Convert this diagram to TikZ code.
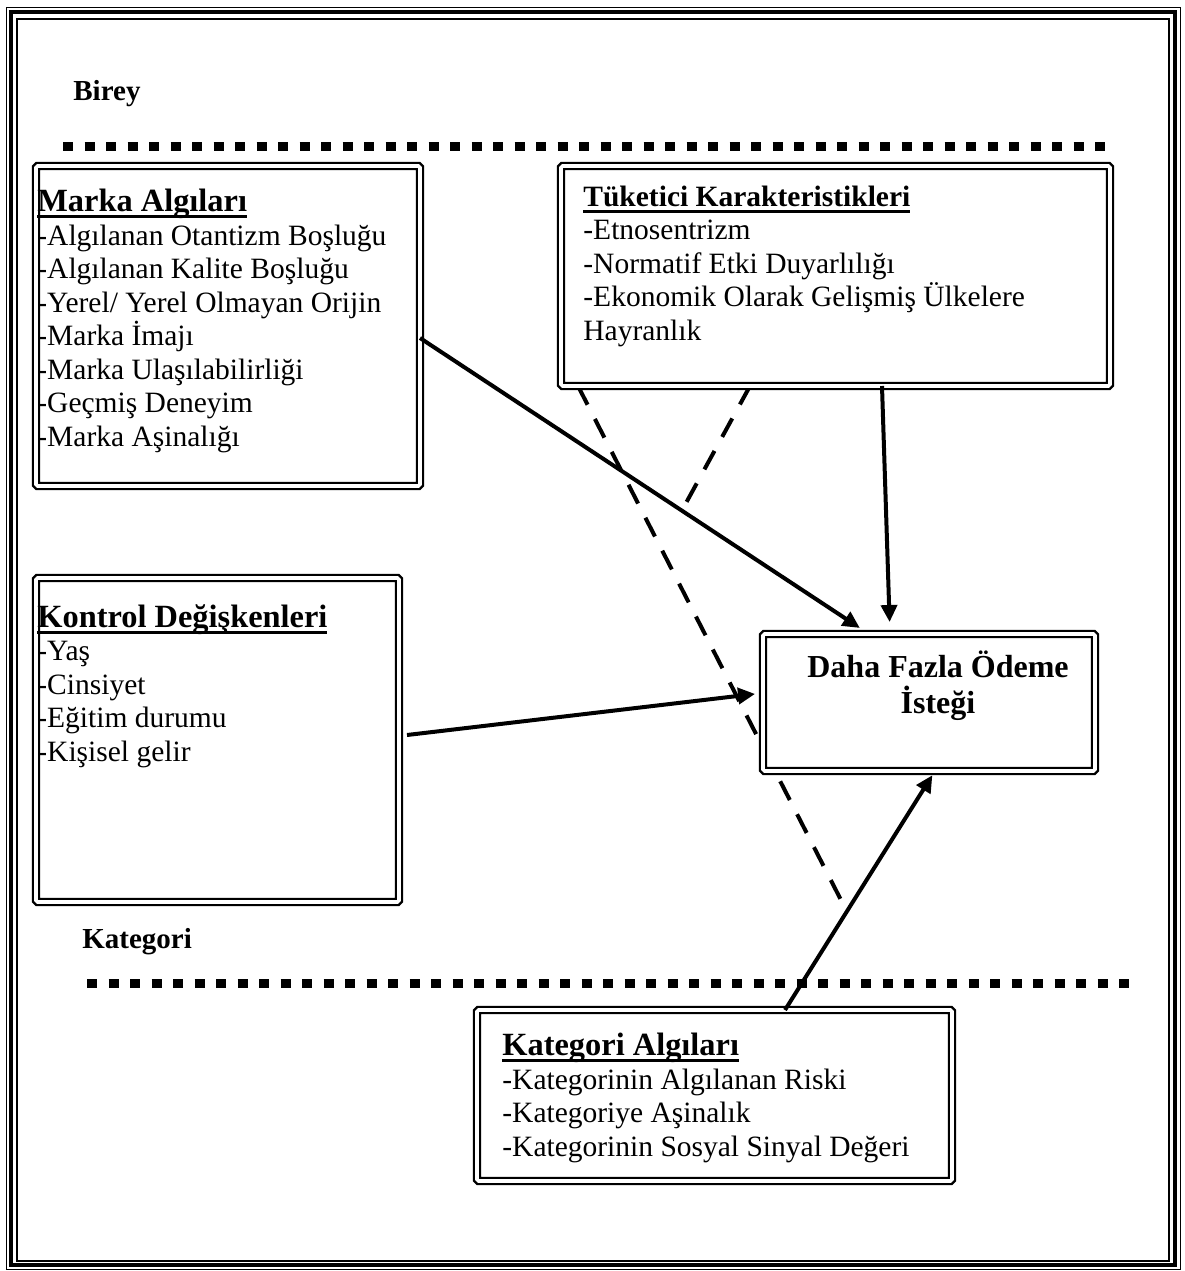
\documentclass[tikz,border=0pt]{standalone}
\usepackage{fontspec}
\setmainfont{Liberation Serif}
\usetikzlibrary{arrows.meta,positioning,backgrounds}

\newsavebox\baslikkutu
\newcommand{\baslik}[2][16.2]{\sbox\baslikkutu{\fontsize{#1}{16.7}\selectfont\bfseries #2}\rlap{\usebox\baslikkutu}\rule[-3.4pt]{\wd\baslikkutu}{1.5pt}}

\begin{document}
\begin{tikzpicture}
	[
		x=0.5pt, y=-0.5pt,
		K/.style = {rectangle, draw, double, line width=1.2pt, double distance=1.8pt, fill=white, rounded corners=0.8pt, outer sep=0pt, inner sep=0pt},
		L/.style = {anchor=base west, align=left, inner sep=0pt, font=\fontsize{14.75}{16.75}\selectfont},
		B/.style = {anchor=base west, inner sep=0pt, font=\fontsize{14.5}{16.7}\selectfont\bfseries},
		D/.style = {anchor=base, align=center, inner sep=0pt, font=\fontsize{16}{18}\selectfont\bfseries},
		ok/.style = {line width=2pt, -{Triangle[length=8.5pt,width=8pt]}},
		kesik/.style = {line width=2pt, dash pattern=on 10.5pt off 8pt},
		nokta/.style = {line width=4.5pt, dash pattern=on 5pt off 5.75pt},
	]
	\useasboundingbox (0,0) rectangle (1185,1271);

	% frame
	\draw[line width=0.5pt] (6,7) rectangle (1180,1269);
	\draw[line width=2pt] (11,12) rectangle (1175,1265);
	\draw[line width=0.75pt] (17,19) rectangle (1169,1261);

	% levels
	\node[B] (birey) 	at ( 73, 100) {Birey};
	\node[B] (kat) 	at ( 82, 948) {Kategori};
	\draw[nokta] (63,146) -- (1112,146);
	\draw[nokta] (87,983) -- (1136,983);

	% boxes
	\node[K, minimum width=192pt, minimum height=160pt] (ma) 	at (228.0, 326.0) {};
	\node[K, minimum width=274.5pt, minimum height=110pt] (tk) 	at (835.5, 276.0) {};
	\node[K, minimum width=181.5pt, minimum height=162pt] (kd) 	at (217.5, 740.0) {};
	\node[K, minimum width=166pt, minimum height=68.5pt] (od) 	at (929.0, 702.5) {};
	\node[K, minimum width=237.5pt, minimum height=85.5pt] (ka) 	at (714.5,1095.5) {};

	% box texts (placed at the baseline of their last line)
	\node[L] (ma-t) 	at ( 37, 446) {\baslik{Marka Algıları}\\-Algılanan Otantizm Boşluğu\\-Algılanan Kalite Boşluğu\\-Yerel/ Yerel Olmayan Orijin\\-Marka İmajı\\-Marka Ulaşılabilirliği\\-Geçmiş Deneyim\\-Marka Aşinalığı};
	\node[L] (tk-t) 	at (583, 340) {\baslik[14.75]{Tüketici Karakteristikleri}\\-Etnosentrizm\\-Normatif Etki Duyarlılığı\\-Ekonomik Olarak Gelişmiş Ülkelere\\Hayranlık};
	\node[L] (kd-t) 	at ( 37, 761) {\baslik{Kontrol Değişkenleri}\\-Yaş\\-Cinsiyet\\-Eğitim durumu\\-Kişisel gelir};
	\node[L] (ka-t) 	at (502,1156) {\baslik{Kategori Algıları}\\-Kategorinin Algılanan Riski\\-Kategoriye Aşinalık\\-Kategorinin Sosyal Sinyal Değeri};
	\node[D] (od-t) 	at (938, 713) {Daha Fazla Ödeme\\İsteği};

	% free ends of the moderator lines
	\coordinate (k1) at (842,902);
	\coordinate (k2) at (686,503);

	\begin{pgfonlayer}{background}
	\draw[kesik] ([xshift=8.5pt]tk.south west) -- (k1);
	\draw[kesik] ([xshift=-42.75pt]tk.south) -- (k2);
	\end{pgfonlayer}

	\draw[ok, shorten >=5.5pt] ([yshift=-6pt]ma.east) -- ([xshift=-30pt]od.north);
	\draw[ok, shorten >=6pt] ([xshift=23.25pt]tk.south) -- ([xshift=-19.5pt]od.north);
	\draw[ok, shorten >=4pt] ([xshift=4pt,yshift=2.5pt]kd.east) -- ([yshift=4.75pt]od.west);
	\draw[ok, shorten >=2.5pt] ([xshift=35.25pt]ka.north) -- ([xshift=3pt]od.south);

\end{tikzpicture}
\end{document}
